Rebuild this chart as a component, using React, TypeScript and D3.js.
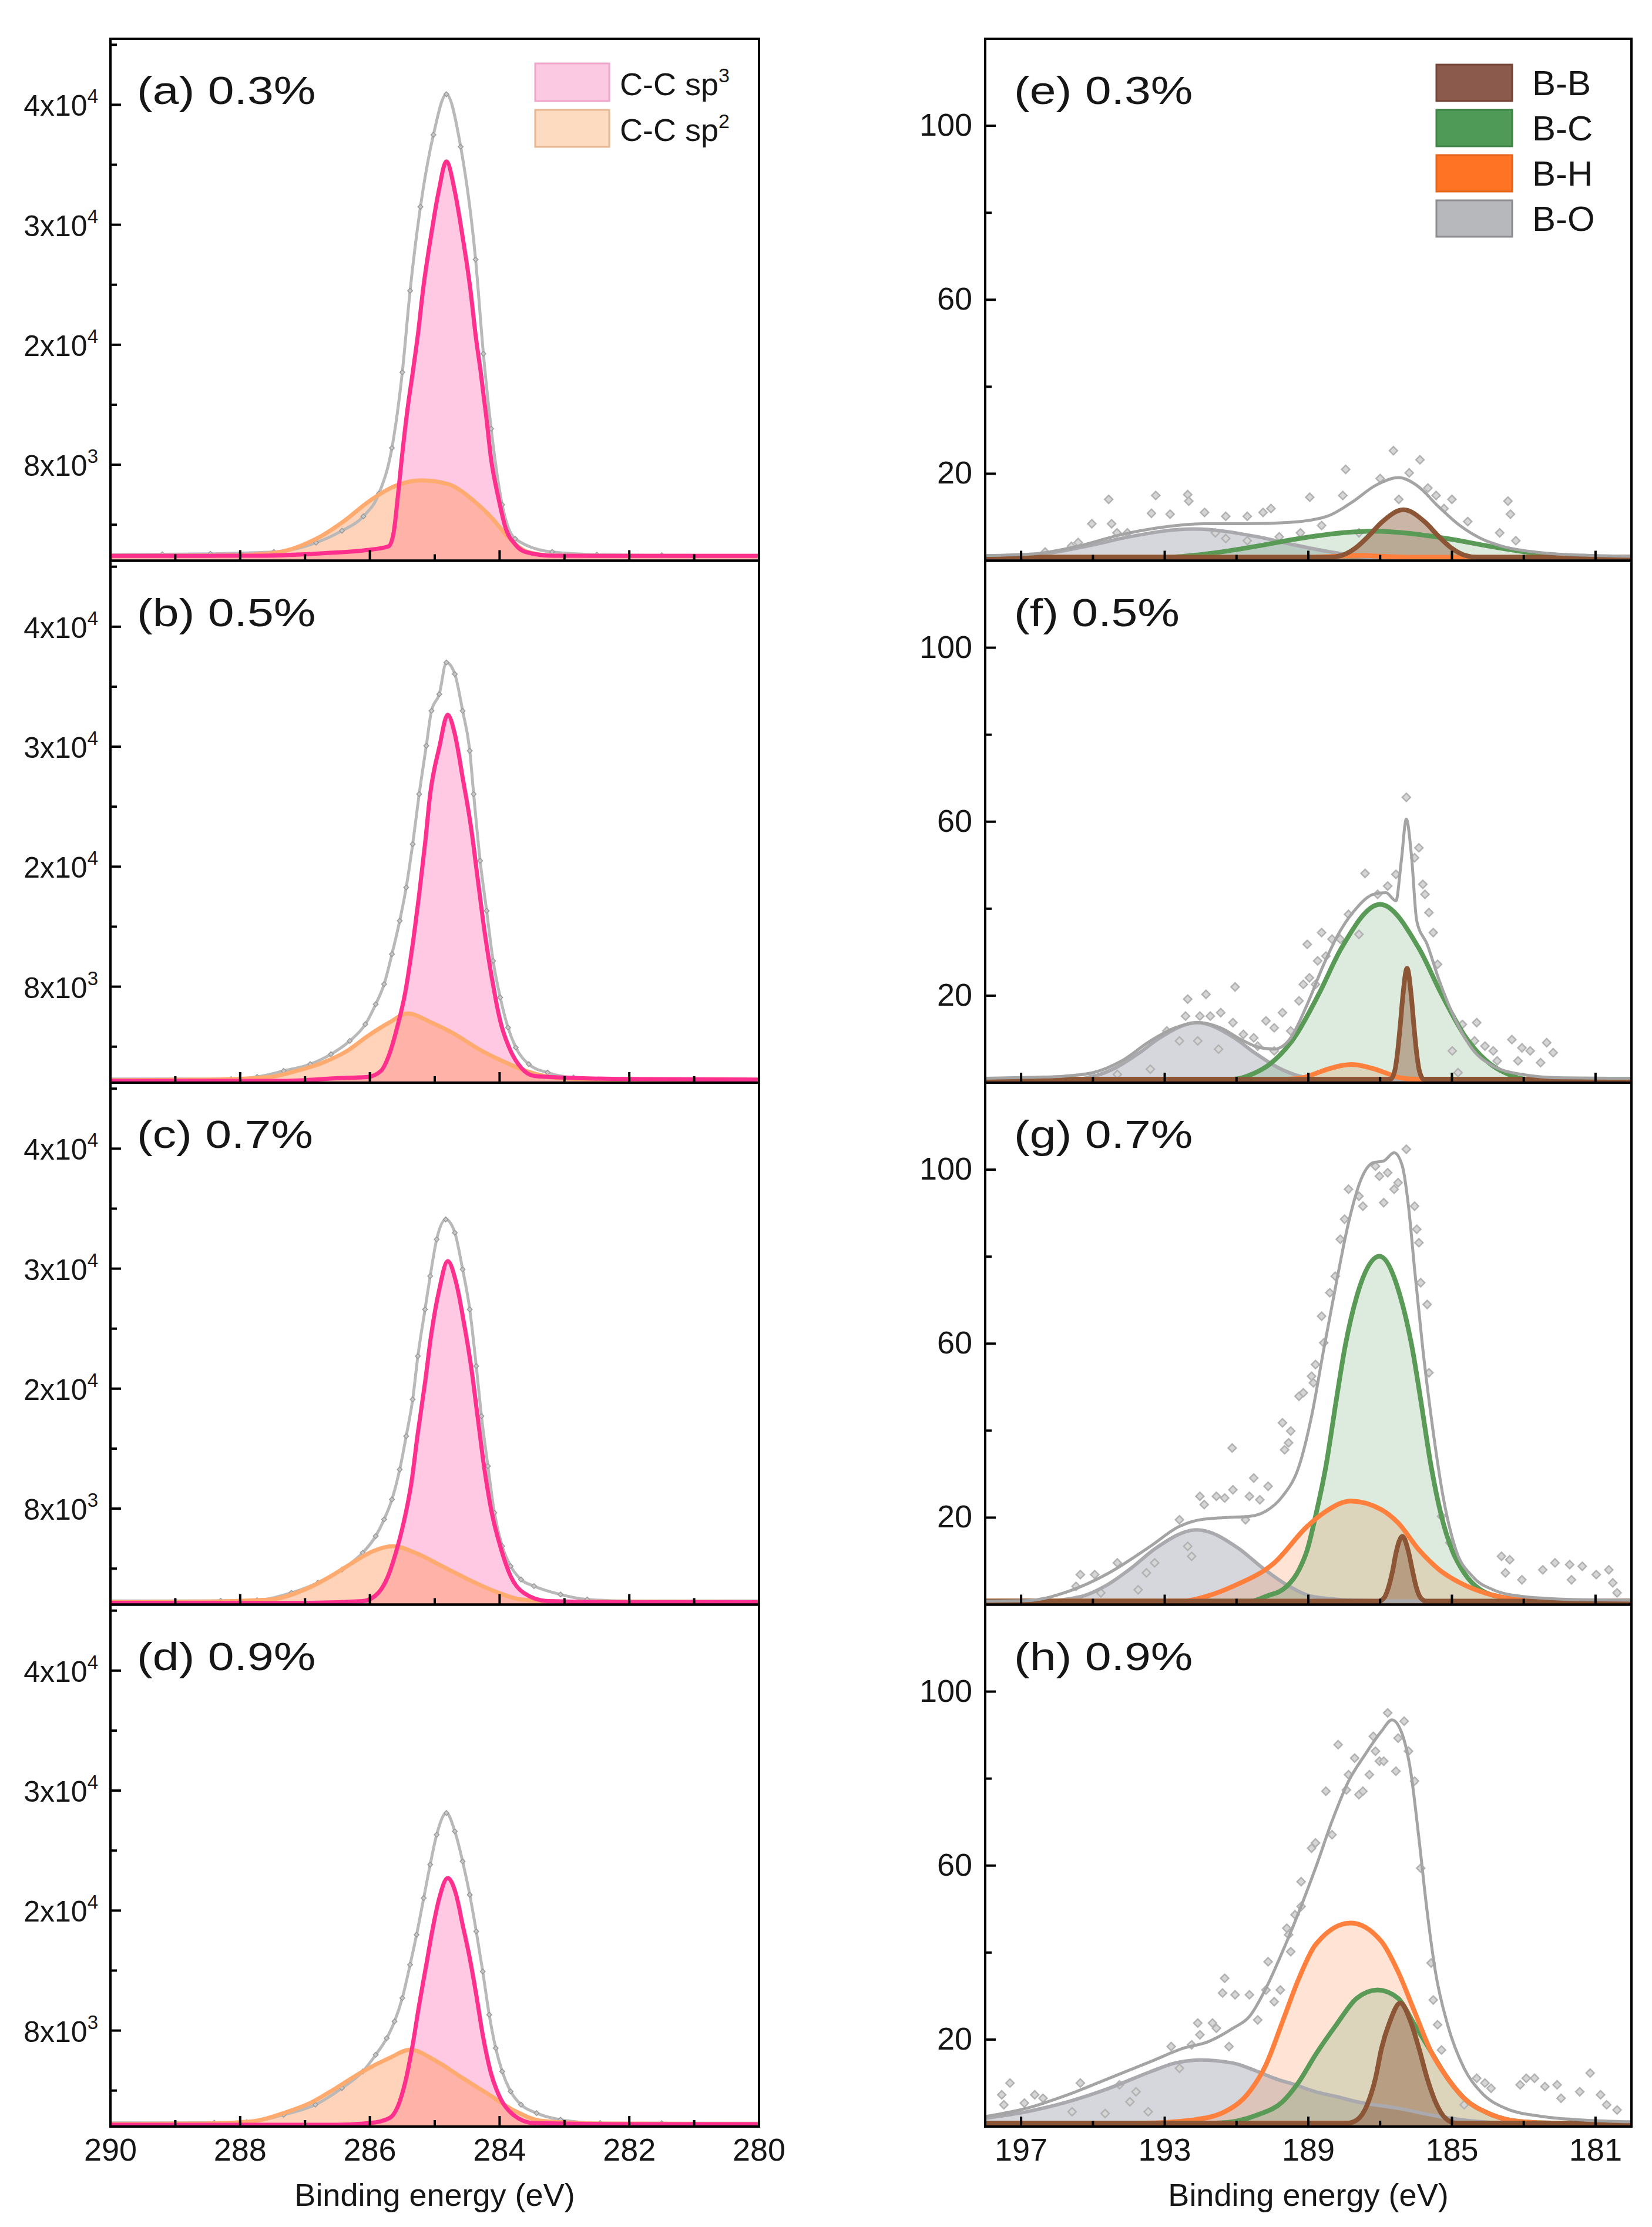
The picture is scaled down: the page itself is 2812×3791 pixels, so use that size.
import React from 'react';
import * as d3 from 'd3';

type Pt = [number, number];

// ================= C 1s column (left) =================
const cXDomain: Pt = [290, 280];
const cYDomain: Pt = [2000, 45500];
const cXLabels = [290, 288, 286, 284, 282, 280];
const cYTickValues = [10000, 20000, 30000, 40000];
const cYTickMain = ['8x10', '2x10', '3x10', '4x10'];
const cYTickSup = ['3', '4', '4', '4'];
const cYMinor = [5000, 15000, 25000, 35000, 45000];
const cPanelLabels = ['(a) 0.3%', '(b) 0.5%', '(c) 0.7%', '(d) 0.9%'];
const cLegendLabels = ['C-C sp', 'C-C sp'];
const cLegendSup = ['3', '2'];

const a_sp3: Pt[] = [[290,2400],[288.5,2410],[287.66,2420],[286.68,2640],[286.04,2890],[285.71,3200],[285.63,4460],[285.57,7290],[285.51,10440],[285.43,14210],[285.34,17670],[285.26,20820],[285.18,24590],[285.06,28990],[284.94,32770],[284.82,35280],[284.69,32770],[284.57,28990],[284.45,24590],[284.37,20820],[284.29,17670],[284.21,14210],[284.13,10440],[284.02,7290],[283.91,4780],[283.76,3360],[283.6,2730],[283.19,2420],[282,2400],[280,2400]];
const a_sp2: Pt[] = [[290,2400],[288.3,2420],[287.5,2640],[286.8,3900],[286.4,5300],[286.0,7000],[285.6,8250],[285.2,8700],[284.8,8400],[284.4,7000],[284.1,5450],[283.9,4150],[283.55,2700],[283.15,2420],[282,2400],[280,2400]];
const a_env: Pt[] = [[290,2500],[289.2,2540],[288.46,2580],[287.48,2730],[286.83,3500],[286.43,4500],[286.1,5700],[285.86,7600],[285.66,11400],[285.5,17700],[285.38,24500],[285.22,31500],[285.02,37500],[284.82,40880],[284.6,36500],[284.37,27100],[284.25,19250],[284.13,13000],[283.96,6660],[283.76,3830],[283.19,2730],[282.5,2500],[281.5,2450],[280,2420]];

const b_sp3: Pt[] = [[290,2150],[288.5,2150],[287.33,2150],[286.52,2370],[286.03,2480],[285.83,2980],[285.7,4370],[285.58,6590],[285.46,9370],[285.34,13540],[285.24,17710],[285.15,21880],[285.07,26050],[284.93,29940],[284.8,32660],[284.69,31050],[284.57,27440],[284.44,23270],[284.34,19100],[284.24,14930],[284.12,10760],[283.99,7150],[283.83,4650],[283.67,3260],[283.47,2560],[283.06,2430],[282,2300],[280,2250]];
const b_sp2: Pt[] = [[290,2200],[288.5,2250],[287.53,2480],[287.13,2980],[286.72,3680],[286.35,4650],[286.03,5900],[285.7,7010],[285.42,7760],[285.05,7010],[284.69,6040],[284.32,4790],[283.96,3810],[283.59,2980],[283.06,2370],[282,2250],[280,2250]];
const b_env: Pt[] = [[290,2300],[289,2300],[288.14,2290],[287.74,2480],[287.33,2980],[286.92,3540],[286.6,4370],[286.31,5480],[286.07,6870],[285.91,8540],[285.78,10210],[285.66,12710],[285.54,15490],[285.44,18270],[285.34,21880],[285.24,26050],[285.13,30080],[285.05,32990],[284.93,34380],[284.82,37020],[284.69,36050],[284.57,32990],[284.46,29660],[284.4,26050],[284.3,20490],[284.2,16320],[284.1,12150],[283.99,9100],[283.87,6590],[283.75,4930],[283.55,3540],[283.26,2840],[282.86,2430],[282,2300],[280,2300]];

const c_sp3: Pt[] = [[290,2150],[287.5,2150],[286.92,2150],[286.11,2290],[285.87,2980],[285.72,4370],[285.6,6320],[285.48,8820],[285.36,12150],[285.26,16320],[285.15,20490],[285.05,24660],[284.93,28270],[284.8,30630],[284.67,28830],[284.55,25490],[284.44,21880],[284.34,17710],[284.24,13540],[284.12,9650],[283.99,6870],[283.83,4370],[283.63,2980],[283.26,2290],[282,2200],[280,2200]];
const c_sp2: Pt[] = [[290,2200],[288.5,2250],[287.53,2430],[287.0,3260],[286.6,4370],[286.27,5480],[285.95,6460],[285.64,6870],[285.3,6320],[284.89,5210],[284.48,4090],[284.08,3120],[283.67,2430],[283,2250],[280,2200]];
const c_env: Pt[] = [[290,2300],[289,2300],[288.3,2320],[287.74,2370],[287.21,2980],[286.8,3820],[286.43,4930],[286.11,6320],[285.91,7710],[285.78,9100],[285.66,10760],[285.54,13260],[285.44,16040],[285.34,19100],[285.26,22710],[285.15,26600],[285.07,29380],[284.97,32440],[284.83,34100],[284.69,32990],[284.57,29940],[284.46,26600],[284.36,21880],[284.28,17710],[284.18,13540],[284.08,9650],[283.96,6870],[283.83,5210],[283.67,4090],[283.47,3540],[283.06,2840],[282.65,2430],[282,2300],[280,2300]];

const d_sp3: Pt[] = [[290,2150],[287,2150],[286.52,2150],[285.99,2290],[285.7,2700],[285.54,4090],[285.44,6040],[285.34,8820],[285.24,12150],[285.13,15490],[285.03,18540],[284.93,21040],[284.8,22710],[284.67,21320],[284.57,18820],[284.46,16040],[284.36,12990],[284.26,9650],[284.14,6590],[283.99,4370],[283.79,2980],[283.47,2290],[282,2200],[280,2200]];
const d_sp2: Pt[] = [[290,2200],[288.6,2250],[287.82,2430],[287.33,3120],[286.92,3960],[286.52,5210],[286.11,6590],[285.7,7710],[285.38,8400],[284.97,7430],[284.57,6040],[284.16,4650],[283.75,3260],[283.35,2480],[282.5,2250],[280,2200]];
const d_env: Pt[] = [[290,2300],[289,2300],[288.4,2320],[287.9,2370],[287.33,2980],[286.84,3820],[286.43,5210],[286.11,6590],[285.91,7980],[285.74,9370],[285.62,10760],[285.5,12710],[285.38,15490],[285.28,17990],[285.17,21040],[285.07,23830],[284.97,26320],[284.82,28130],[284.69,26600],[284.57,24100],[284.46,21320],[284.36,18270],[284.26,14930],[284.16,11320],[284.06,8540],[283.96,6590],[283.83,4930],[283.67,3820],[283.43,3120],[283.06,2570],[282.45,2290],[281.5,2280],[280,2280]];

const cSp3 = [a_sp3, b_sp3, c_sp3, d_sp3];
const cSp2 = [a_sp2, b_sp2, c_sp2, d_sp2];
const cEnv = [a_env, b_env, c_env, d_env];

// ================= B 1s column (right) =================
const bXDomain: Pt = [198, 180];
const bYDomain: Pt = [0, 120];
const bXLabels = [197, 193, 189, 185, 181];
const bXMinor = [195, 191, 187, 183];
const bYLabels = [20, 60, 100];
const bYMinor = [40, 80];
const bPanelLabels = ['(e) 0.3%', '(f) 0.5%', '(g) 0.7%', '(h) 0.9%'];
const bLegendLabels = ['B-B', 'B-C', 'B-H', 'B-O'];

const e_BO: Pt[] = [[198,0.8],[197.24,0.8],[196.16,1.83],[195.0,3.65],[194.0,5.48],[192.2,7.3],[190.4,5.48],[189.4,3.65],[188.24,1.83],[187.16,0.8],[185.48,0.8],[180,0.8]];
const e_BC: Pt[] = [[198,0.8],[192.96,0.8],[191.72,1.7],[190.4,3.4],[189.26,5.1],[187.2,6.8],[185.14,5.1],[184.0,3.4],[182.68,1.7],[181.44,0.8],[180,0.8]];
const e_BH: Pt[] = [[198,0.8],[189.1,0.8],[188.57,0.9],[187.6,1.2],[186.63,0.9],[186.1,0.8],[180,0.8]];
const e_BB: Pt[] = [[198,0.8],[188.4,0.8],[188.06,1.24],[187.69,2.9],[187.3,5.85],[186.96,8.8],[186.35,11.7],[185.74,8.8],[185.4,5.85],[185.01,2.9],[184.64,1.24],[184.3,0.8],[180,0.8]];
const e_env: Pt[] = [[198,1.2],[196.63,1.6],[195.44,3.3],[194.26,5.9],[193.07,7.7],[191.89,8.5],[190.7,8.5],[189.52,8.8],[188.48,10.2],[187.74,13.7],[187.15,17.2],[186.48,19.1],[185.96,17.2],[185.37,12.4],[184.78,8.1],[184.19,5.1],[183.59,3.3],[182.56,1.9],[181.07,1.2],[180,1.0]];
const e_pts: Pt[] = [[194.56,14.1],[193.25,15.0],[192.36,15.2],[192.33,13.7],[195.03,8.5],[194.48,8.5],[195.41,4.2],[194.33,6.4],[194.04,6.4],[193.37,10.9],[192.85,10.7],[191.89,11.1],[191.3,10.2],[190.7,10.2],[190.26,11.1],[190.04,12.0],[191.59,6.4],[191.3,5.1],[190.7,4.6],[189.81,5.5],[188.96,14.6],[187.96,21.0],[188.04,15.0],[186.63,25.3],[185.89,23.2],[186.19,20.2],[187.0,18.9],[186.48,14.1],[185.67,16.7],[185.44,15.0],[185.0,14.1],[185.22,12.0],[184.56,9.0],[183.44,13.7],[183.37,10.7],[183.67,6.4],[183.22,4.6],[189.22,6.4],[188.63,8.1],[187.59,6.4],[196.33,2.0],[195.6,3.3]];

const f_BO: Pt[] = [[198,0.8],[195.43,0.8],[194.98,1.46],[194.36,3.45],[193.7,6.9],[193.13,10.35],[192.1,13.8],[191.07,10.35],[190.5,6.9],[189.84,3.45],[189.22,1.46],[188.77,0.8],[180,0.8]];
const f_BC: Pt[] = [[198,0.8],[191.08,0.8],[190.54,2.05],[190.06,4.35],[189.4,10.25],[188.7,20.5],[188.09,30.75],[187.0,41],[185.91,30.75],[185.3,20.5],[184.6,10.25],[183.94,4.35],[183.46,2.05],[182.92,0.8],[180,0.8]];
const f_BH: Pt[] = [[198,0.8],[189.6,0.8],[189.21,1.05],[188.8,2.1],[188.44,3.15],[187.8,4.2],[187.16,3.15],[186.8,2.1],[186.39,1.05],[186.0,0.8],[180,0.8]];
const f_BB: Pt[] = [[198,0.8],[186.71,0.8],[186.59,2.8],[186.52,6.6],[186.44,13.15],[186.37,19.7],[186.25,26.3],[186.13,19.7],[186.06,13.15],[185.98,6.6],[185.91,2.8],[185.79,0.8],[180,0.8]];
const f_env: Pt[] = [[198,1.0],[196.8,1.2],[195.81,1.5],[195.0,2.3],[194.2,5.0],[193.4,9.6],[192.71,12.6],[192.08,13.8],[191.44,12.6],[190.87,9.9],[190.41,8.2],[189.95,7.7],[189.49,10.3],[189.03,18.0],[188.57,27.2],[188.11,34.9],[187.65,40.2],[187.19,43.3],[186.84,43.7],[186.56,41.8],[186.41,51.0],[186.27,60.6],[186.13,52.5],[185.98,37.2],[185.69,31.8],[185.35,23.4],[184.89,14.2],[184.43,7.7],[183.85,3.8],[183.05,1.9],[181.9,1.1],[180,1.0]];
const f_pts: Pt[] = [[192.36,19.2],[191.85,20.3],[191.04,22.0],[191.44,16.1],[192.42,15.3],[192.02,15.3],[191.73,15.3],[192.94,11.9],[192.59,9.6],[192.08,9.6],[191.5,7.7],[191.1,13.8],[190.81,11.1],[190.52,10.3],[190.18,14.2],[189.95,12.6],[189.72,16.1],[189.49,11.9],[189.26,18.8],[189.14,22.6],[188.8,22.6],[188.97,24.1],[189.03,31.8],[188.74,28.0],[188.51,29.1],[188.63,34.5],[188.34,33.0],[188.11,33.0],[187.59,34.1],[187.88,38.7],[187.42,48.1],[186.79,45.2],[187.07,43.3],[186.56,47.9],[186.27,65.6],[186.04,51.7],[185.92,54.0],[185.81,45.6],[185.75,43.3],[185.64,39.1],[185.52,34.5],[185.4,27.2],[184.71,13.4],[184.31,13.8],[184.99,7.3],[184.37,9.6],[184.08,8.4],[183.85,7.3],[183.33,9.9],[183.05,8.0],[182.82,7.3],[182.36,9.2],[182.18,6.9],[183.74,5.0],[183.16,5.0],[182.53,4.6],[193.4,3.1],[184.83,2.3],[194.32,1.9],[195.0,1.5],[189.95,7.3],[190.41,8.4]];

const g_BO: Pt[] = [[198,0.8],[196.42,0.8],[195.34,1.82],[194.65,4.3],[193.9,8.6],[193.26,12.9],[192.1,17.2],[190.94,12.9],[190.3,8.6],[189.55,4.3],[188.86,1.82],[187.78,1.0],[186.7,0.8],[180,0.8]];
const g_BC: Pt[] = [[198,0.8],[190.6,0.8],[190.18,1.9],[189.6,4.2],[189.26,8.0],[189.03,12.6],[188.8,20.3],[188.51,31.8],[188.22,47.1],[187.99,58.7],[187.65,70.9],[187.02,80.1],[186.44,70.9],[186.1,58.7],[185.87,47.1],[185.58,31.8],[185.29,20.3],[185.0,12.6],[184.66,7.3],[184.2,3.4],[183.51,1.5],[182.8,0.8],[180,0.8]];
const g_BH: Pt[] = [[198,0.8],[192.5,0.8],[191.8,2.0],[191.1,4.2],[189.95,9.6],[189.03,18.0],[188.57,21.1],[187.82,23.8],[186.96,21.8],[186.5,18.8],[185.92,12.6],[185.35,8.0],[184.77,5.0],[184.2,3.0],[183.28,1.3],[182.3,0.8],[180,0.8]];
const g_BB: Pt[] = [[198,0.8],[187.04,0.8],[186.88,1.66],[186.77,3.9],[186.65,7.85],[186.56,11.8],[186.38,15.7],[186.2,11.8],[186.1,7.85],[185.99,3.9],[185.88,1.66],[185.72,0.8],[180,0.8]];
const g_env: Pt[] = [[198,0.8],[196.85,0.9],[195.7,3.0],[194.55,7.3],[193.4,13.4],[192.59,18.0],[192.02,19.5],[191.33,20.0],[190.64,20.3],[190.18,21.5],[189.72,24.9],[189.26,31.8],[188.91,43.3],[188.57,58.7],[188.22,74.0],[187.88,87.8],[187.53,97.8],[187.19,101.6],[186.9,102.0],[186.61,103.9],[186.38,100.8],[186.21,91.6],[186.04,77.1],[185.81,58.7],[185.58,43.3],[185.23,24.1],[184.89,12.6],[184.43,6.5],[183.85,3.4],[183.05,1.9],[181.32,1.1],[180,1.0]];
const g_pts: Pt[] = [[195.35,6.9],[194.95,6.9],[195.47,4.2],[194.78,2.7],[194.32,9.6],[193.74,3.4],[193.51,7.3],[193.28,9.6],[192.59,19.5],[192.36,13.4],[192.25,11.1],[192.02,24.9],[191.9,23.0],[191.56,24.9],[191.33,24.5],[191.1,26.4],[190.75,19.5],[190.64,24.9],[190.52,29.1],[190.35,24.1],[190.12,27.2],[191.12,36.0],[189.72,41.8],[189.55,37.2],[189.66,35.6],[189.49,39.9],[189.26,47.9],[189.14,48.7],[188.91,52.5],[188.86,51.0],[188.8,55.2],[188.63,66.3],[188.57,60.2],[188.4,71.7],[188.25,75.5],[188.11,84.0],[187.99,88.6],[187.88,95.5],[187.59,93.9],[187.48,91.6],[187.13,100.8],[187.02,98.5],[186.9,92.4],[186.79,99.3],[186.61,95.5],[186.5,97.0],[186.27,104.7],[186.04,91.6],[185.98,86.3],[185.92,83.2],[185.87,74.0],[185.69,69.0],[185.64,53.3],[185.29,20.3],[185.06,14.2],[183.62,11.1],[183.39,10.3],[183.51,7.3],[182.47,8.0],[182.13,9.6],[181.72,9.2],[181.37,8.8],[180.98,6.9],[180.63,8.0],[180.52,5.0],[180.4,2.7],[183.05,5.7],[181.67,5.7]];

const h_BO: Pt[] = [[198,1.9],[196.85,3.4],[195.7,5.7],[194.55,8.8],[193.4,12.6],[192.71,14.6],[192.02,15.3],[191.1,14.6],[190.52,13.0],[189.95,11.1],[189.37,9.6],[188.8,8.0],[188.22,6.9],[187.65,5.7],[186.5,4.2],[185.35,2.3],[184.2,1.1],[183.3,0.8],[180,0.8]];
const h_BH: Pt[] = [[198,0.8],[193.6,0.8],[192.25,1.5],[191.33,3.4],[190.64,8.0],[190.18,14.2],[189.72,24.1],[189.26,34.1],[188.8,41.8],[187.82,46.8],[186.96,42.5],[186.5,35.6],[186.04,26.4],[185.58,17.2],[185.12,11.1],[184.66,6.5],[183.97,3.0],[183.05,1.1],[182.2,0.8],[180,0.8]];
const h_BC: Pt[] = [[198,0.8],[191.56,0.8],[190.41,2.7],[189.72,5.7],[189.26,10.3],[188.8,16.5],[188.22,23.4],[187.65,29.5],[187.07,31.4],[186.5,29.5],[186.04,23.4],[185.58,17.2],[185.12,11.1],[184.66,6.5],[183.97,3.0],[183.05,1.1],[182.2,0.8],[180,0.8]];
const h_BB: Pt[] = [[198,0.8],[187.9,0.8],[187.65,1.5],[187.36,5.0],[187.13,11.1],[186.96,18.0],[186.73,24.1],[186.44,28.4],[186.15,24.1],[185.92,18.0],[185.69,11.1],[185.46,5.7],[185.18,1.9],[184.9,0.8],[180,0.8]];
const h_env: Pt[] = [[198,2.3],[196.85,4.2],[195.7,7.3],[194.55,11.1],[193.4,14.9],[192.48,18.0],[191.79,19.5],[191.1,22.6],[190.64,25.3],[190.18,31.8],[189.72,40.2],[189.26,49.4],[188.8,59.4],[188.34,70.2],[187.88,79.4],[187.42,85.5],[186.96,90.9],[186.67,93.5],[186.38,90.1],[186.15,81.7],[185.92,66.3],[185.69,49.4],[185.46,35.6],[185.12,23.4],[184.66,13.4],[184.2,8.0],[183.51,4.2],[182.47,2.3],[181.32,1.5],[180,1.1]];
const h_pts: Pt[] = [[197.31,10.0],[197.54,7.3],[197.48,5.0],[196.91,5.4],[196.62,7.3],[196.39,6.5],[195.35,10.0],[195.58,3.4],[194.66,3.0],[194.26,9.6],[193.97,5.7],[193.8,8.0],[193.46,3.4],[192.82,18.4],[192.59,13.4],[192.25,18.8],[192.08,23.8],[192.02,21.1],[191.67,23.8],[191.56,22.6],[191.21,18.4],[191.39,30.7],[191.04,30.3],[191.33,34.1],[190.64,30.3],[190.41,24.5],[190.18,31.4],[189.95,28.7],[189.78,31.4],[190.12,37.9],[189.55,44.1],[189.49,40.2],[189.37,48.7],[189.2,50.6],[189.6,45.6],[189.2,56.3],[188.91,64.0],[188.8,65.2],[188.51,77.1],[188.34,67.1],[188.17,87.8],[187.94,77.4],[187.88,80.9],[187.71,84.7],[187.59,76.3],[187.48,77.1],[187.3,80.9],[187.13,86.3],[187.19,89.7],[187.02,84.0],[186.9,84.0],[186.79,95.1],[186.5,89.3],[186.33,93.2],[186.56,81.7],[186.21,86.3],[186.04,79.4],[185.87,59.4],[185.58,37.6],[185.52,29.1],[185.4,23.4],[185.29,17.6],[184.31,11.1],[184.08,10.0],[183.91,8.8],[184.66,5.0],[183.1,9.6],[182.93,11.1],[182.7,11.1],[182.41,9.2],[182.07,9.6],[181.96,6.5],[181.44,8.0],[181.15,12.3],[180.86,7.3],[180.69,5.0],[180.4,3.8]];

const bBO = [e_BO, f_BO, g_BO, h_BO];
const bBC = [e_BC, f_BC, g_BC, h_BC];
const bBH = [e_BH, f_BH, g_BH, h_BH];
const bBB = [e_BB, f_BB, g_BB, h_BB];
const bEnv = [e_env, f_env, g_env, h_env];
const bPts = [e_pts, f_pts, g_pts, h_pts];

// ================= layout =================
const FONT = '"Liberation Sans", Arial, Helvetica, sans-serif';
const TOP = 66;
const PH = 888.5;
const CX0 = 188, CX1 = 1292;
const BX0 = 1677, BX1 = 2777;
const TXT = '#161616';

const diamondType: any = (d3 as any).symbolDiamond2 || d3.symbolDiamond;
const bigMarker = d3.symbol().type(diamondType).size(120)() as string;
const smallMarker = d3.symbol().type(diamondType).size(45)() as string;

function CPanel({ i }: { i: number }) {
  const top = TOP + i * PH;
  const bot = top + PH;
  const x = d3.scaleLinear().domain(cXDomain).range([CX0, CX1]);
  const y = d3.scaleLinear().domain(cYDomain).range([bot, top]);
  const line = d3.line<Pt>().x(d => x(d[0])).y(d => y(d[1])).curve(d3.curveMonotoneX);
  const area = d3.area<Pt>().x(d => x(d[0])).y0(bot).y1(d => y(d[1])).curve(d3.curveMonotoneX);
  const id = `cclip${i}`;
  const xt = d3.range(281, 290);
  return (
    <g>
      <defs>
        <clipPath id={id}><rect x={CX0} y={top} width={CX1 - CX0} height={PH} /></clipPath>
      </defs>
      <g clipPath={`url(#${id})`}>
        <path d={area(cSp3[i]) || ''} fill="#ff5aaa" fillOpacity={0.33} />
        <path d={area(cSp2[i]) || ''} fill="#ff9050" fillOpacity={0.4} />
        <path d={line(cEnv[i]) || ''} fill="none" stroke="#b9b9b9" strokeWidth={5} />
        {cEnv[i].slice(1, -1).map((d, k) => (
          <path key={k} d={smallMarker} transform={`translate(${x(d[0])},${y(d[1])})`} fill="#c8c8c8" stroke="#9a9a9a" strokeWidth={1.5} />
        ))}
        <path d={line(cSp2[i]) || ''} fill="none" stroke="#ffab70" strokeWidth={7} />
        <path d={line(cSp3[i]) || ''} fill="none" stroke="#ff2f8e" strokeWidth={7} />
      </g>
      {xt.map(v => (
        <line key={'xt' + v} x1={x(v)} x2={x(v)} y1={bot} y2={bot - (v % 2 === 0 ? 18 : 11)} stroke="#000" strokeWidth={4} />
      ))}
      {cYTickValues.map(v => (
        <line key={'yt' + v} x1={CX0} x2={CX0 + 18} y1={y(v)} y2={y(v)} stroke="#000" strokeWidth={4} />
      ))}
      {cYMinor.map(v => (
        <line key={'ym' + v} x1={CX0} x2={CX0 + 11} y1={y(v)} y2={y(v)} stroke="#000" strokeWidth={4} />
      ))}
      {cYTickValues.map((v, k) => (
        <text key={'yl' + v} x={167} y={y(v) + 19} textAnchor="end" fontSize={50} fill={TXT}>
          {cYTickMain[k]}
          <tspan fontSize={33} dy={-22}>{cYTickSup[k]}</tspan>
        </text>
      ))}
      <rect x={CX0} y={top} width={CX1 - CX0} height={PH} fill="none" stroke="#000" strokeWidth={4} />
      <text transform={`translate(${CX0 + 45},${top + 111}) scale(1.22,1)`} fontSize={66} fill={TXT}>
        {cPanelLabels[i]}
      </text>
      {i === 3 && cXLabels.map(v => (
        <text key={'xl' + v} x={x(v)} y={bot + 58} textAnchor="middle" fontSize={54} fill={TXT}>{v}</text>
      ))}
      {i === 3 && (
        <text x={(CX0 + CX1) / 2} y={bot + 135} textAnchor="middle" fontSize={54} fill={TXT}>Binding energy (eV)</text>
      )}
      {i === 0 && (
        <g>
          <rect x={911} y={108} width={126} height={64} fill="#fcc9e3" stroke="#f0a6ca" strokeWidth={3} />
          <rect x={911} y={187} width={126} height={63} fill="#fddbc0" stroke="#e6b792" strokeWidth={3} />
          {cLegendLabels.map((t, k) => (
            <text key={'lg' + k} x={1055} y={k === 0 ? 162 : 240} fontSize={54} fill={TXT}>
              {t}
              <tspan fontSize={34} dy={-22}>{cLegendSup[k]}</tspan>
            </text>
          ))}
        </g>
      )}
    </g>
  );
}

const bLegendFill = ['#8b5a4d', '#4e9a56', '#ff7424', '#b6b8bc'];
const bLegendStroke = ['#764538', '#3e8646', '#e5651a', '#8c8c8e'];

function BPanel({ i }: { i: number }) {
  const top = TOP + i * PH;
  const bot = top + PH;
  const x = d3.scaleLinear().domain(bXDomain).range([BX0, BX1]);
  const y = d3.scaleLinear().domain(bYDomain).range([bot, top]);
  const line = d3.line<Pt>().x(d => x(d[0])).y(d => y(d[1])).curve(d3.curveMonotoneX);
  const area = d3.area<Pt>().x(d => x(d[0])).y0(bot).y1(d => y(d[1])).curve(d3.curveMonotoneX);
  const id = `bclip${i}`;
  return (
    <g>
      <defs>
        <clipPath id={id}><rect x={BX0} y={top} width={BX1 - BX0} height={PH} /></clipPath>
      </defs>
      <g clipPath={`url(#${id})`}>
        <path d={area(bBO[i]) || ''} fill="#b3b7bf" fillOpacity={0.55} />
        <path d={area(bBH[i]) || ''} fill="#ff7a30" fillOpacity={0.2} />
        <path d={area(bBC[i]) || ''} fill="#4e9a55" fillOpacity={0.2} />
        <path d={area(bBB[i]) || ''} fill="#8b5a3c" fillOpacity={0.45} />
        {bPts[i].map((d, k) => (
          <path key={k} d={bigMarker} transform={`translate(${x(d[0])},${y(d[1])})`} fill="#d6d6d6" stroke="#b2b2b2" strokeWidth={2.5} />
        ))}
        <path d={line(bBO[i]) || ''} fill="none" stroke="#aaaaae" strokeWidth={6} />
        <path d={line(bBC[i]) || ''} fill="none" stroke="#5a9a57" strokeWidth={8} />
        <path d={line(bBH[i]) || ''} fill="none" stroke="#ff7f3c" strokeWidth={8} />
        <path d={line(bBB[i]) || ''} fill="none" stroke="#8b5536" strokeWidth={8} />
        <path d={line(bEnv[i]) || ''} fill="none" stroke="#a4a4a4" strokeWidth={5} />
      </g>
      {bXLabels.map(v => (
        <line key={'xt' + v} x1={x(v)} x2={x(v)} y1={bot} y2={bot - 17} stroke="#000" strokeWidth={4} />
      ))}
      {bXMinor.map(v => (
        <line key={'xm' + v} x1={x(v)} x2={x(v)} y1={bot} y2={bot - 10} stroke="#000" strokeWidth={4} />
      ))}
      {bYLabels.map(v => (
        <line key={'yt' + v} x1={BX0} x2={BX0 + 18} y1={y(v)} y2={y(v)} stroke="#000" strokeWidth={4} />
      ))}
      {bYMinor.map(v => (
        <line key={'ym' + v} x1={BX0} x2={BX0 + 11} y1={y(v)} y2={y(v)} stroke="#000" strokeWidth={4} />
      ))}
      {bYLabels.map(v => (
        <text key={'yl' + v} x={1655} y={y(v) + 17} textAnchor="end" fontSize={54} fill={TXT}>{v}</text>
      ))}
      <rect x={BX0} y={top} width={BX1 - BX0} height={PH} fill="none" stroke="#000" strokeWidth={4} />
      <text transform={`translate(${BX0 + 49},${top + 111}) scale(1.22,1)`} fontSize={66} fill={TXT}>
        {bPanelLabels[i]}
      </text>
      {i === 3 && bXLabels.map(v => (
        <text key={'xl' + v} x={x(v)} y={bot + 58} textAnchor="middle" fontSize={54} fill={TXT}>{v}</text>
      ))}
      {i === 3 && (
        <text x={(BX0 + BX1) / 2} y={bot + 135} textAnchor="middle" fontSize={54} fill={TXT}>Binding energy (eV)</text>
      )}
      {i === 0 && (
        <g>
          {bLegendLabels.map((t, k) => (
            <g key={'lg' + k}>
              <rect x={2445} y={110 + k * 77} width={129} height={62} fill={bLegendFill[k]} stroke={bLegendStroke[k]} strokeWidth={3} />
              <text x={2608} y={162 + k * 77} fontSize={60} fill={TXT}>{t}</text>
            </g>
          ))}
        </g>
      )}
    </g>
  );
}

export default function App() {
  return (
    <div style={{ position: 'absolute', left: 0, top: 0 }}>
      <svg width={2812} height={3791} viewBox="0 0 2812 3791" style={{ display: 'block', background: '#fff' }} fontFamily={FONT}>
        <rect x={0} y={0} width={2812} height={3791} fill="#fff" />
        {[0, 1, 2, 3].map(i => <CPanel key={'c' + i} i={i} />)}
        {[0, 1, 2, 3].map(i => <BPanel key={'b' + i} i={i} />)}
      </svg>
    </div>
  );
}
